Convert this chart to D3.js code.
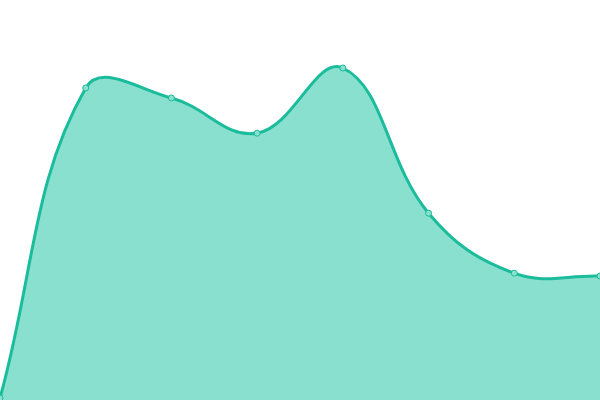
<!DOCTYPE html>
<html>
<head>
<meta charset="utf-8">
<script src="https://cdn.jsdelivr.net/npm/d3@7"></script>
<style>
html,body{margin:0;padding:0;background:#fff;}
svg{display:block;}
</style>
</head>
<body>
<svg id="chart" width="600" height="400"></svg>
<script>
// chart values
const categories = ["A", "B", "C", "D", "E", "F", "G", "H"];
const values = [0.5, 78, 75.5, 66.7, 83, 46.7, 31.7, 31];

const svg = d3.select('#chart');
const width = 600, height = 400;

const x = d3.scalePoint().domain(categories).range([0, width]);
const y = d3.scaleLinear().domain([0, 100]).range([height, 0]);

const data = categories.map((c, i) => ({cat: c, val: values[i]}));

// distance weighted spline (tension 0.4), works for d3.line and d3.area
function SplineCurve(context, t) { this._context = context; this._t = t; }
SplineCurve.prototype = {
  areaStart() { this._line = 0; },
  areaEnd() { this._line = NaN; },
  lineStart() { this._pts = []; },
  point(px, py) { this._pts.push([+px, +py]); },
  lineEnd() {
    const p = this._pts, n = p.length, c = this._context, t = this._t;
    if (n) {
      if (this._line) c.lineTo(p[0][0], p[0][1]); else c.moveTo(p[0][0], p[0][1]);
      const cps = p.map((cur, i) => {
        const prev = p[i - 1] || cur, next = p[i + 1] || cur;
        const d01 = Math.hypot(cur[0] - prev[0], cur[1] - prev[1]);
        const d12 = Math.hypot(next[0] - cur[0], next[1] - cur[1]);
        let s01 = d01 / (d01 + d12), s12 = d12 / (d01 + d12);
        if (isNaN(s01)) s01 = 0;
        if (isNaN(s12)) s12 = 0;
        const fa = t * s01, fb = t * s12;
        return {
          a: [cur[0] - fa * (next[0] - prev[0]), cur[1] - fa * (next[1] - prev[1])],
          b: [cur[0] + fb * (next[0] - prev[0]), cur[1] + fb * (next[1] - prev[1])]
        };
      });
      for (let i = 1; i < n; i++) {
        c.bezierCurveTo(cps[i - 1].b[0], cps[i - 1].b[1], cps[i].a[0], cps[i].a[1], p[i][0], p[i][1]);
      }
    }
    if (this._line || (this._line !== 0 && n === 1)) c.closePath();
    this._line = 1 - this._line;
  }
};
const curve = context => new SplineCurve(context, 0.4);

// filled area
const area = d3.area()
  .x(d => x(d.cat))
  .y0(y(0))
  .y1(d => y(d.val))
  .curve(curve);

svg.append('path')
  .datum(data)
  .attr('d', area)
  .attr('fill', '#8ae0cf');

// the line on top
const line = d3.line()
  .x(d => x(d.cat))
  .y(d => y(d.val))
  .curve(curve);

svg.append('path')
  .datum(data)
  .attr('d', line)
  .attr('fill', 'none')
  .attr('stroke', '#1abc9c')
  .attr('stroke-width', 3);

// points
svg.selectAll('.pt')
  .data(data)
  .enter().append('circle')
  .attr('class', 'pt')
  .attr('cx', d => x(d.cat))
  .attr('cy', d => y(d.val))
  .attr('r', 3)
  .attr('fill', '#8ae0cf')
  .attr('stroke', '#1abc9c')
  .attr('stroke-width', 1);
</script>
</body>
</html>
